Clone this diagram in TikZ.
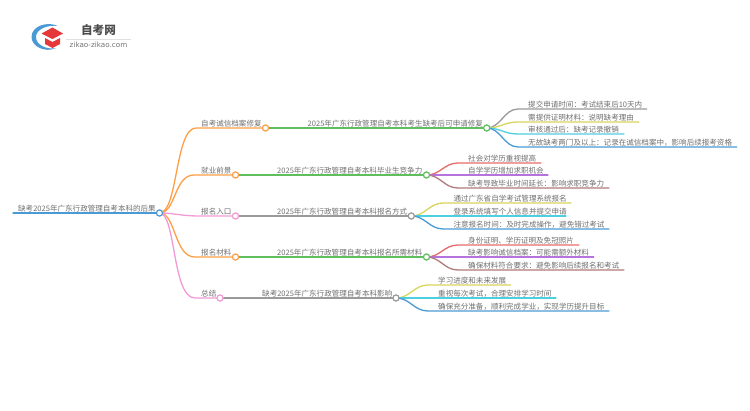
\documentclass[tikz,border=0pt]{standalone}
\usepackage{fontspec}
\usetikzlibrary{calc}
\setmainfont{Noto Sans CJK SC}
\newfontfamily\latinfont{DejaVu Sans}
\definecolor{corange}{HTML}{FF9F45}
\definecolor{cgreen}{HTML}{5FBF5F}
\definecolor{cpink}{HTML}{F29AD8}
\definecolor{cgray}{HTML}{9A9A9A}
\definecolor{cyellow}{HTML}{D9D55B}
\definecolor{ccyan}{HTML}{4CCFE0}
\definecolor{cblue}{HTML}{4A9BD5}
\definecolor{cred}{HTML}{E96B6B}
\definecolor{cpurple}{HTML}{B573DB}
\definecolor{cbrown}{HTML}{B07A7A}
\definecolor{ctext}{HTML}{707070}
\definecolor{logored}{HTML}{E5383B}
\tikzset{
  x=1pt,y=-1pt,
  conn/.style={line width=1.3pt,line cap=round},
  dotnode/.style={circle,draw=#1,fill=white,line width=1.1pt,minimum size=6pt,inner sep=0pt},
  lab/.style={anchor=south west,inner sep=0pt,text=ctext,font=\fontsize{7.55}{8}\selectfont,text height=7pt,text depth=1pt,yshift=0.8pt},
}
% \leafline{name}{parent}{colour}{x text}{y}{x end}{text}
\newcommand{\leafline}[7]{%
  \coordinate (#1s) at (#4-10,#5);
  \coordinate (#1e) at (#6,#5);
  \node[lab] (#1) at (#4,#5) {#7};
  \draw[conn,#3] (#2.center) .. controls ($(#2.center)+(14,0)$) and ($(#1s)+(-14,0)$) .. (#1s) -- (#1e);
}
\begin{document}
\begin{tikzpicture}
\useasboundingbox (0,0) rectangle (750,410);
\fill[white] (0,0) rectangle (750,410);

% logo
\fill[cblue] (58,26) .. controls (47,21) and (31.5,26) .. (31.5,37) .. controls (31.5,47) and (46,53) .. (56,48)
   .. controls (47,50) and (36,45) .. (36,37) .. controls (36,29) and (48,24.5) .. (58,26) -- cycle;
\fill[logored] (52.5,27.5) -- (63,33.5) -- (52.5,39) -- (41.5,33.5) -- cycle;
\fill[logored] (45,38) -- (52.5,42) -- (60,38) -- (60,44) -- (52.5,48) -- (45,44) -- cycle;
\node[inner sep=0pt,text=black!70,font=\fontsize{11.6}{12}\bfseries\selectfont] (logotitle) at (98.5,30.5) {自考网};
\coordinate (logoa) at (66,39);
\coordinate (logob) at (131,39);
\draw[black!12,line width=0.6pt] (logoa) -- (logob);
\node[inner sep=0pt,text=black!55,font=\latinfont\fontsize{7.2}{8}\selectfont] (logosub) at (98.5,45) {zikao-zikao.com};

% dots (named positions)
\coordinate (roots) at (13,213);
\node[dotnode=cblue] (root) at (159.5,213) {};
\node[dotnode=corange] (a) at (265.5,128) {};
\node[dotnode=corange] (b) at (235.5,175) {};
\node[dotnode=cpink]   (c) at (235.5,216) {};
\node[dotnode=corange] (d) at (235.5,257) {};
\node[dotnode=cpink]   (e) at (220,298) {};
\node[dotnode=cgreen] (a2) at (486.7,128) {};
\node[dotnode=cgreen] (b2) at (426.5,175) {};
\node[dotnode=cgray]  (c2) at (411.3,216) {};
\node[dotnode=cgreen] (d2) at (426.5,257) {};
\node[dotnode=cgray]  (e2) at (396,298) {};

% root line
\draw[conn,cblue] (roots) -- (root);
% first level connectors
\coordinate (as) at (196,128);
\coordinate (bs) at (194,175);
\coordinate (cs) at (200,216);
\coordinate (ds) at (195,257);
\coordinate (es) at (195,298);
\draw[conn,corange] (root.center) .. controls (178,213) and (175,128) .. (as) -- (a);
\draw[conn,corange] (root.center) .. controls (176,213) and (174,175) .. (bs) -- (b);
\draw[conn,cpink]   (root.center) .. controls (175,213) and (180,216) .. (cs) -- (c);
\draw[conn,corange] (root.center) .. controls (176,213) and (174,257) .. (ds) -- (d);
\draw[conn,cpink]   (root.center) .. controls (176,213) and (172,298) .. (es) -- (e);
% second level connectors
\draw[conn,cgreen] (a) -- (a2);
\draw[conn,cgreen] (b) -- (b2);
\draw[conn,cgray]  (c) -- (c2);
\draw[conn,cgreen] (d) -- (d2);
\draw[conn,cgray]  (e) -- (e2);

% leaves
\leafline{a1}{a2}{cgray}{528}{109}{646.7}{提交申请时间：考试结束后10天内}
\leafline{a3}{a2}{cyellow}{528}{122}{639}{需提供证明材料：说明缺考理由}
\leafline{a4}{a2}{ccyan}{528}{134}{624}{审核通过后：缺考记录撤销}
\leafline{a5}{a2}{cblue}{528}{147}{736.7}{无故缺考两门及以上：记录在诚信档案中，影响后续报考资格}
\leafline{b1}{b2}{cred}{468}{163}{541}{社会对学历重视提高}
\leafline{b3}{b2}{cpurple}{468}{175}{548}{自学学历增加求职机会}
\leafline{b4}{b2}{cbrown}{468}{188}{609}{缺考导致毕业时间延长：影响求职竞争力}
\leafline{c1}{c2}{cyellow}{453.3}{203}{571}{通过广东省自学考试管理系统报名}
\leafline{c3}{c2}{ccyan}{453.3}{216}{566}{登录系统填写个人信息并提交申请}
\leafline{c4}{c2}{cblue}{453.3}{229}{609}{注意报名时间：及时完成操作，避免错过考试}
\leafline{d1}{d2}{cred}{468}{245}{579}{身份证明、学历证明及免冠照片}
\leafline{d3}{d2}{cpurple}{468}{257}{593.7}{缺考影响诚信档案：可能需额外材料}
\leafline{d4}{d2}{cbrown}{468}{270}{624}{确保材料符合要求：避免影响后续报名和考试}
\leafline{e1}{e2}{cyellow}{438}{285}{510.7}{学习进度和未来发展}
\leafline{e3}{e2}{ccyan}{438}{298}{556}{重视每次考试，合理安排学习时间}
\leafline{e4}{e2}{cblue}{438}{311}{609}{确保充分准备，顺利完成学业，实现学历提升目标}

% redraw dots on top
\foreach \n/\cc in {root/cblue,a/corange,b/corange,c/cpink,d/corange,e/cpink,a2/cgreen,b2/cgreen,c2/cgray,d2/cgreen,e2/cgray}
  \node[dotnode=\cc] at (\n.center) {};

% labels
\node[lab] (roottext) at (18,213) {缺考2025年广东行政管理自考本科的后果};
\node[lab] (at) at (201,128) {自考诚信档案修复};
\node[lab] (bt) at (201,175) {就业前景};
\node[lab] (ct) at (201,216) {报名入口};
\node[lab] (dt) at (201,257) {报名材料};
\node[lab] (et) at (201,298) {总结};
\node[lab] (at2) at (307.5,128) {2025年广东行政管理自考本科考生缺考后可申请修复};
\node[lab] (bt2) at (277,175) {2025年广东行政管理自考本科毕业生竞争力};
\node[lab] (ct2) at (277,216) {2025年广东行政管理自考本科报名方式};
\node[lab] (dt2) at (277,257) {2025年广东行政管理自考本科报名所需材料};
\node[lab] (et2) at (262,298) {缺考2025年广东行政管理自考本科影响};
\end{tikzpicture}
\end{document}
